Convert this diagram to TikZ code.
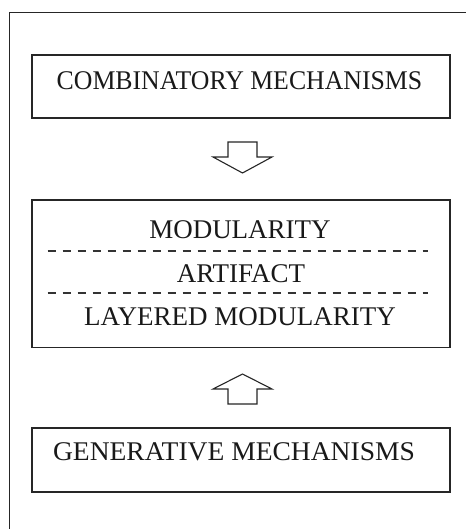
\documentclass[tikz,border=0pt]{standalone}
\usepackage{fontspec}
\setmainfont{Liberation Serif}
\begin{document}
\begin{tikzpicture}[x=1pt,y=-1pt,
  frame/.style={draw=black!85, line width=1.3pt},
  box/.style={draw=black!85, line width=1.2pt, rectangle, inner sep=0pt, fill=none},
  lbl/.style={anchor=base, inner sep=0pt, font=\fontsize{27}{30}\selectfont, text=black!90},
  sep/.style={draw=black!80, line width=1.2pt, dash pattern=on 8pt off 7pt},
  bigarrow/.style={draw=black!85, line width=1.1pt, fill=white, line join=miter}]
\useasboundingbox (0,0) rectangle (466,529);
% outer frame (only left and top edges are visible)
\draw[frame] (9.5,529) |- (466,12.5);
% boxes
\node[box, minimum width=418pt, minimum height=63pt] (comb) at (241,86.5) {};
\node[box, minimum width=418pt, minimum height=147.5pt] (mod) at (241,273.75) {};
\node[box, minimum width=418pt, minimum height=64pt] (gen) at (241,460) {};
% labels
\node[lbl] (combt) at (239.5,89.5) {\scalebox{0.955}[1]{COMBINATORY MECHANISMS}};
\node[lbl] (modt) at (240,238) {MODULARITY};
\node[lbl] (artt) at (241,282) {ARTIFACT};
\node[lbl] (layt) at (240,325) {LAYERED MODULARITY};
\node[lbl] (gent) at (234,460) {\scalebox{1.02}[1]{GENERATIVE MECHANISMS}};
% dashed separators
\coordinate (d1a) at (47.5,251); \coordinate (d1b) at (428,251);
\coordinate (d2a) at (47.5,293); \coordinate (d2b) at (428,293);
\draw[sep] (d1a) -- (d1b);
\draw[sep] (d2a) -- (d2b);
% block arrows
\draw[bigarrow] (228,142) -- (257,142) -- (257,157) -- (272,157) -- (242.5,173)
  -- (213,157) -- (228,157) -- cycle;
\draw[bigarrow] (242.5,374) -- (272,389) -- (257,389) -- (257,404) -- (228,404)
  -- (228,389) -- (213,389) -- cycle;
\end{tikzpicture}
\end{document}
